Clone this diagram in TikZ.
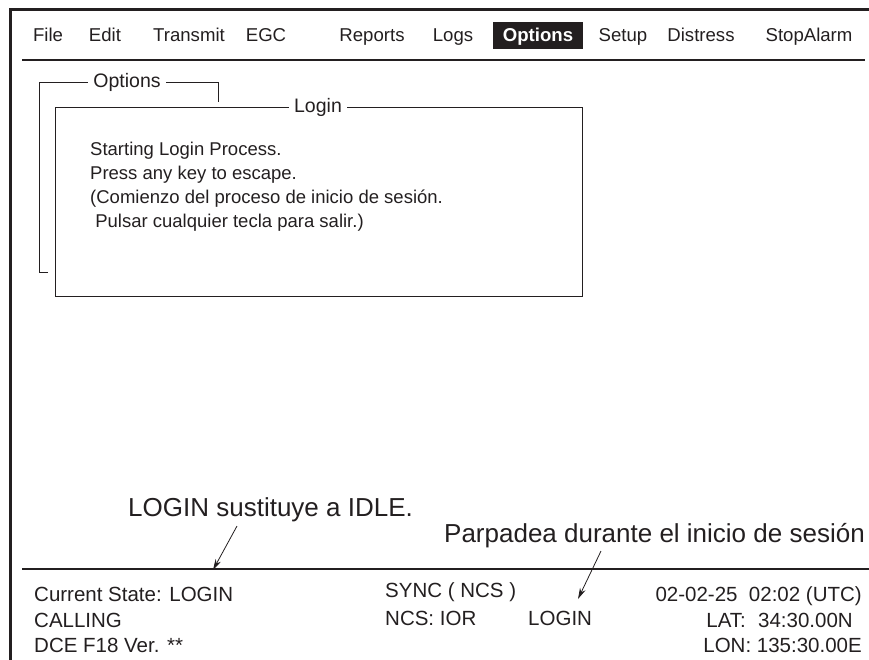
\documentclass[tikz,border=0pt]{standalone}
\usepackage{fontspec}
\setmainfont{Liberation Sans}
\usetikzlibrary{arrows.meta}
\definecolor{ink}{HTML}{231F20}

\begin{document}
\begin{tikzpicture}[x=1pt,y=-1pt,
  menu/.style={anchor=base,inner sep=0pt,text=ink,font=\fontsize{18.6}{22}\selectfont},
  label/.style={anchor=base,fill=white,inner xsep=5pt,inner ysep=2pt,text=ink,font=\fontsize{19.5}{22}\selectfont},
  txt/.style={anchor=base west,inner sep=0pt,text=ink,font=\fontsize{20.5}{24}\selectfont},
  note/.style={anchor=base west,inner sep=0pt,text=ink,font=\fontsize{26}{28}\selectfont},
  ptr/.style={ink,line width=0.8pt,-{Stealth[length=11pt,width=6pt]}}]
\useasboundingbox (0,0) rectangle (869,660);

% screen frame and separators
\draw [ink, line width=2.2pt] (10.5,660) -- (10.5,9.5) -- (869,9.5);
\draw [ink, line width=1.3pt] (22,60) -- (865,60); % menu bar
\draw [ink, line width=1.3pt] (22,569) -- (869,569); % status bar

% menu
\node [menu] (file) at (48,42) {File};
\node [menu] (edit) at (105,42) {Edit};
\node [menu] (transmit) at (189,42) {Transmit};
\node [menu] (egc) at (266,42) {EGC};
\node [menu] (reports) at (372,42) {Reports};
\node [menu] (logs) at (453,42) {Logs};
\node [menu, fill=ink, text=white, font=\fontsize{18.6}{22}\selectfont\bfseries,
  inner xsep=10pt, inner ysep=6pt, text height=14pt, text depth=1pt] (options) at (538,42) {Options};
\node [menu] (setup) at (623,42) {Setup};
\node [menu] (distress) at (701,42) {Distress};
\node [menu] (stopalarm) at (809,42) {StopAlarm};

% Options window (behind)
\draw [ink, line width=0.9pt] (48,272) -- (39,272) -- (39,82) -- (218,82) -- (218,102);
\node [label] (optlabel) at (127,88) {Options};

% Login window
\draw [ink, line width=0.9pt] (55,107) rectangle (582,296);
\node [label] (loginlabel) at (318,113) {Login};
\node [txt, anchor=north west, align=left, font=\fontsize{18.5}{24}\selectfont] (msg) at (90,142)
  {Starting Login Process.\\ Press any key to escape.\\
   (Comienzo del proceso de inicio de sesión.\\ \ Pulsar cualquier tecla para salir.)};

% status area
\node [txt] (state) at (34,601) {Current State: LOGIN};
\node [txt] (calling) at (34,627) {CALLING};
\node [txt] (dce) at (34,652) {DCE F18 Ver. **};
\node [txt] (sync) at (385,597) {SYNC ( NCS )};
\node [txt] (ncs) at (385,625) {NCS: IOR};
\node [txt] (login) at (528,625) {LOGIN};
\node [txt, anchor=base east] (date) at (862,601) {02-02-25\ \ 02:02 (UTC)};
\node [txt, anchor=base east] (lat) at (853,627) {LAT:\hspace{0.6em}34:30.00N};
\node [txt, anchor=base east] (lon) at (862,652) {LON: 135:30.00E};

% callouts
\node [note] (noteidle) at (128,516) {LOGIN sustituye a IDLE.};
\node [note, anchor=base east] (noteblink) at (865,542) {Parpadea durante el inicio de sesión};
\coordinate (tailidle) at (237,526);
\coordinate (tipidle) at (213,570);
\coordinate (tailblink) at (601,551);
\coordinate (tipblink) at (578,599);
\draw [ptr] (tailidle) -- (tipidle);
\draw [ptr] (tailblink) -- (tipblink);

\end{tikzpicture}
\end{document}
